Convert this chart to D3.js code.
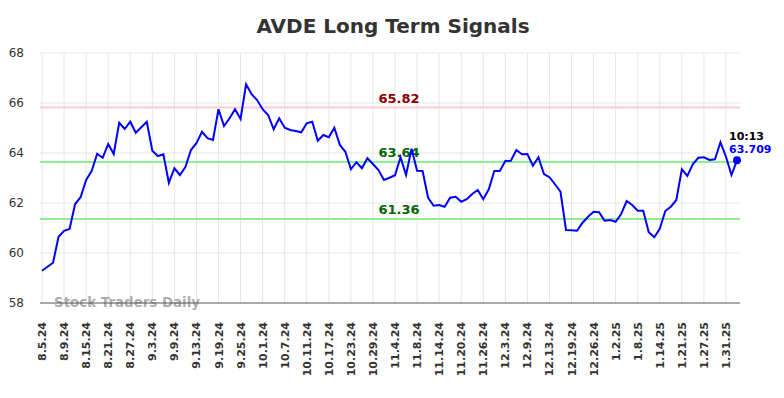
<!DOCTYPE html>
<html>
<head>
<meta charset="utf-8">
<script src="https://cdn.jsdelivr.net/npm/d3@7"></script>
<style>
  body { margin: 0; background: #fff; }
  svg { font-family: "DejaVu Sans", sans-serif; }
</style>
</head>
<body>
<div id="chart"></div>
<script>
// tick labels, one every 4 trading days
const tickLabels = ['8.5.24', '8.9.24', '8.15.24', '8.21.24', '8.27.24', '9.3.24', '9.9.24', '9.13.24',
  '9.19.24', '9.25.24', '10.1.24', '10.7.24', '10.11.24', '10.17.24', '10.23.24', '10.29.24',
  '11.4.24', '11.8.24', '11.14.24', '11.20.24', '11.26.24', '12.3.24', '12.9.24', '12.13.24',
  '12.19.24', '12.26.24', '1.2.25', '1.8.25', '1.14.25', '1.21.25', '1.27.25', '1.31.25'];
const tickStep = 4;

const prices = [
  59.29, 59.45, 59.61, 60.65, 60.89, 60.96, 61.96, 62.23, 62.92, 63.28,
  63.97, 63.81, 64.36, 63.96, 65.21, 64.96, 65.25, 64.81, 65.03, 65.25,
  64.09, 63.88, 63.95, 62.81, 63.39, 63.12, 63.44, 64.12, 64.39, 64.85,
  64.59, 64.52, 65.75, 65.08, 65.39, 65.75, 65.36, 66.75, 66.35, 66.12,
  65.75, 65.52, 64.95, 65.39, 65.01, 64.92, 64.88, 64.83, 65.19, 65.25,
  64.49, 64.72, 64.63, 65.01, 64.32, 64.05, 63.35, 63.63, 63.39, 63.79,
  63.56, 63.32, 62.92, 63.01, 63.11, 63.83, 63.12, 64.17, 63.29, 63.28,
  62.21, 61.89, 61.92, 61.85, 62.21, 62.25, 62.05, 62.15, 62.36, 62.52,
  62.15, 62.55, 63.28, 63.28, 63.68, 63.69, 64.12, 63.95, 63.96, 63.49,
  63.83, 63.16, 63.03, 62.75, 62.45, 60.92, 60.91, 60.89, 61.21, 61.45,
  61.65, 61.63, 61.29, 61.32, 61.25, 61.56, 62.08, 61.92, 61.69, 61.69,
  60.83, 60.63, 60.97, 61.68, 61.85, 62.12, 63.35, 63.08, 63.56, 63.81,
  63.83, 63.72, 63.75, 64.43, 63.85, 63.12, 63.709
];

const yTicks = [58, 60, 62, 64, 66, 68];
const signalValues = [65.82, 63.64, 61.36];
const signalColors = ['#ffcccc', '#90ee90', '#90ee90'];
const signalTextColors = ['#8b0000', '#006400', '#006400'];
const lastTime = '10:13';

const width = 784, height = 398;
const margin = { top: 53, right: 44, bottom: 95, left: 40 };

const svg = d3.select('#chart').append('svg')
  .attr('width', width)
  .attr('height', height);

const x = d3.scaleLinear().domain([0, prices.length - 1]).range([42, 737]);
const y = d3.scaleLinear().domain([58, 68]).range([height - margin.bottom, margin.top]);
const plotRight = width - margin.right;

// title
svg.append('text')
  .attr('x', width / 2 + 1)
  .attr('y', 33)
  .attr('text-anchor', 'middle')
  .attr('font-size', 20)
  .attr('font-weight', 'bold')
  .attr('fill', '#333')
  .text('AVDE Long Term Signals');

// grid
const grid = svg.append('g').attr('stroke', '#e6e6e6').attr('stroke-width', 1);
grid.selectAll('line.h')
  .data(yTicks.slice(1))
  .enter().append('line')
  .attr('x1', margin.left).attr('x2', plotRight)
  .attr('y1', d => y(d)).attr('y2', d => y(d));
grid.selectAll('line.v')
  .data(tickLabels)
  .enter().append('line')
  .attr('x1', (d, i) => x(i * tickStep)).attr('x2', (d, i) => x(i * tickStep))
  .attr('y1', y(68)).attr('y2', y(58));

// y labels
svg.append('g')
  .selectAll('text')
  .data(yTicks)
  .enter().append('text')
  .attr('x', 24)
  .attr('y', d => y(d) + 4)
  .attr('text-anchor', 'end')
  .attr('font-size', 12)
  .attr('fill', '#333')
  .text(d => d);

// x labels
svg.append('g')
  .selectAll('text')
  .data(tickLabels)
  .enter().append('text')
  .attr('transform', (d, i) => 'translate(' + (x(i * tickStep) + 4) + ',322) rotate(-90)')
  .attr('text-anchor', 'end')
  .attr('font-size', 11)
  .attr('font-weight', 'bold')
  .attr('fill', '#333')
  .text(d => d);

// signal lines
signalValues.forEach((v, i) => {
  svg.append('line')
    .attr('x1', margin.left).attr('x2', plotRight)
    .attr('y1', y(v)).attr('y2', y(v))
    .attr('stroke', signalColors[i])
    .attr('stroke-width', 2);
  svg.append('text')
    .attr('x', 399)
    .attr('y', y(v) - 5)
    .attr('text-anchor', 'middle')
    .attr('font-size', 13)
    .attr('font-weight', 'bold')
    .attr('fill', signalTextColors[i])
    .text(v.toFixed(2));
});

// watermark
svg.append('text')
  .attr('x', 54)
  .attr('y', 307)
  .attr('font-size', 13.4)
  .attr('font-weight', 'bold')
  .attr('fill', '#999')
  .attr('fill-opacity', 0.8)
  .text('Stock Traders Daily');

// bottom axis line
svg.append('line')
  .attr('x1', margin.left).attr('x2', plotRight)
  .attr('y1', y(58)).attr('y2', y(58))
  .attr('stroke', '#555')
  .attr('stroke-width', 1);

// price line
const line = d3.line()
  .x((d, i) => x(i))
  .y(d => y(d));

svg.append('path')
  .datum(prices)
  .attr('fill', 'none')
  .attr('stroke', '#0000ff')
  .attr('stroke-width', 2)
  .attr('d', line);

// last point
const lastIdx = prices.length - 1;
svg.append('circle')
  .attr('cx', x(lastIdx))
  .attr('cy', y(prices[lastIdx]))
  .attr('r', 4)
  .attr('fill', '#0000ff');

svg.append('text')
  .attr('x', x(lastIdx) - 8)
  .attr('y', y(prices[lastIdx]) - 20)
  .attr('font-size', 11)
  .attr('font-weight', 'bold')
  .attr('fill', '#000')
  .text(lastTime);

svg.append('text')
  .attr('x', x(lastIdx) - 8)
  .attr('y', y(prices[lastIdx]) - 7)
  .attr('font-size', 11)
  .attr('font-weight', 'bold')
  .attr('fill', '#0000ff')
  .text(prices[lastIdx].toFixed(3));
</script>
</body>
</html>
